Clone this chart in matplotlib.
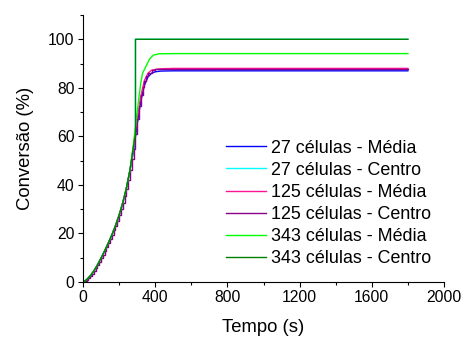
import matplotlib
matplotlib.use("Agg")
import matplotlib.pyplot as plt
from matplotlib.ticker import MultipleLocator

plt.rcParams['font.family'] = ['Liberation Sans', 'DejaVu Sans']

# Shared early rise (time in s, conversion in %)
t_rise = [0, 20, 40, 60, 80, 100, 120, 140, 160, 180, 200, 220, 240, 260]
c_rise = [0, 0.9, 2.5, 4.5, 7, 9.8, 12.8, 16, 19.4, 23.2, 27.5, 32.5, 38.5, 46]

# 27 células - Média
t_27m = t_rise + [280, 300, 320, 340, 360, 380, 400, 430, 500, 800, 1800]
c_27m = c_rise + [54, 65, 74.5, 81, 84.5, 86, 86.6, 86.9, 87.0, 87.0, 87.0]

# 27 células - Centro
t_27c = t_rise + [280, 290, 290, 1800]
c_27c = c_rise + [55, 60, 100, 100]

# 125 células - Média
t_125m = t_rise + [280, 300, 320, 340, 360, 380, 420, 500, 800, 1800]
c_125m = c_rise + [56, 67, 76.5, 83, 86, 87.3, 87.8, 88.0, 88.0, 88.0]

# 125 células - Centro (stepwise)
t_125c = [0, 10, 20, 30, 40, 50, 60, 70, 80, 90, 100, 110, 120, 130, 140,
          150, 160, 170, 180, 190, 200, 210, 220, 230, 240, 250, 260, 270,
          280, 290, 300, 310, 320, 330, 340, 350, 360, 380, 400, 450, 1800]
c_125c = [0, 0.4, 0.9, 1.6, 2.5, 3.4, 4.5, 5.7, 7, 8.4, 9.8, 11.3, 12.8,
          14.4, 16, 17.7, 19.4, 21.3, 23.2, 25.3, 27.5, 30, 32.5, 35.5, 38.5,
          42.2, 46, 50.5, 55, 61, 67, 72.5, 77, 80.5, 83, 85, 86, 87.2, 87.6,
          87.8, 87.8]

# 343 células - Média
t_343m = t_rise + [280, 300, 320, 330, 350, 370, 390, 420, 500, 800, 1800]
c_343m = c_rise + [57, 70, 82, 86, 89, 92, 93.5, 94.0, 94.1, 94.1, 94.1]

# 343 células - Centro
t_343c = t_rise + [280, 291, 291, 1800]
c_343c = c_rise + [56, 61, 100, 100]

labels = ["27 células - Média", "27 células - Centro",
          "125 células - Média", "125 células - Centro",
          "343 células - Média", "343 células - Centro"]
colors = ["#0000FF", "#00FFFF", "#FF1493", "#8B008B", "#00FF00", "#008000"]

fig = plt.figure(figsize=(4.63, 3.37), dpi=100)
ax = fig.add_axes([83/463, 55/337, (444-83)/463, (282-15)/337])

series = [(t_27m, c_27m), (t_27c, c_27c), (t_125m, c_125m),
          (t_125c, c_125c), (t_343m, c_343m), (t_343c, c_343c)]
for (t, c), lab, col in zip(series, labels, colors):
    ds = 'steps-post' if lab == "125 células - Centro" else 'default'
    ax.plot(t, c, color=col, lw=1.0, label=lab, drawstyle=ds)

ax.set_xlim(0, 2000)
ax.set_ylim(0, 110)
ax.xaxis.set_major_locator(MultipleLocator(400))
ax.xaxis.set_minor_locator(MultipleLocator(200))
ax.yaxis.set_major_locator(MultipleLocator(20))
ax.yaxis.set_minor_locator(MultipleLocator(10))
for s in ['top', 'right']:
    ax.spines[s].set_visible(False)
ax.tick_params(which='major', direction='out', length=3.5, width=0.8,
               labelsize=11.3, pad=2.5)
ax.tick_params(which='minor', direction='out', length=2, width=0.8)
ax.set_xlabel("Tempo (s)", fontsize=13.3, labelpad=10)
ax.set_ylabel("Conversão (%)", fontsize=13.3, labelpad=10)

leg = ax.legend(loc='center left', bbox_to_anchor=(226/463, (337-203.5)/337),
                bbox_transform=fig.transFigure, frameon=False, fontsize=12.9,
                handlelength=2.25, handletextpad=0.28, labelspacing=0.29,
                borderpad=0, borderaxespad=0)

fig.savefig("out.png", dpi=100)
